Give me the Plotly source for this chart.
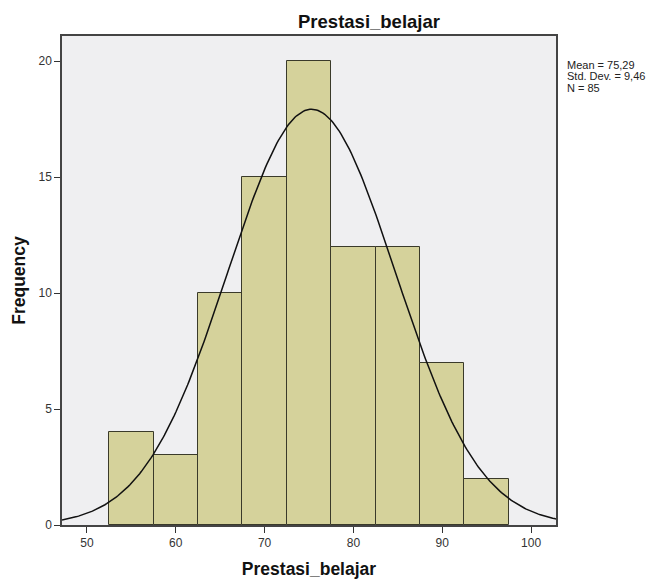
import numpy as np
import plotly.graph_objects as go

# histogram bins (centres, width 5) and frequencies
bin_centers = [55, 60, 65, 70, 75, 80, 85, 90, 95]
frequencies = [4, 3, 10, 15, 20, 12, 12, 7, 2]
bin_width = 5

mean_val = 75.29
std_val = 9.46
n_val = 85

x_ticks = [50, 60, 70, 80, 90, 100]
y_ticks = [0, 5, 10, 15, 20]
stat_lines = ["Mean = 75,29", "Std. Dev. = 9,46", "N = 85"]

# fitted normal curve from the reported statistics
xc = np.linspace(47.2, 102.8, 300)
yc = n_val * bin_width / (std_val * np.sqrt(2 * np.pi)) * np.exp(-0.5 * ((xc - mean_val) / std_val) ** 2)

W, H = 655, 575  # page body adds an 8px offset
L, R, T, B = 54, 107, 28, 58
ph = H - T - B

fig = go.Figure()
fig.add_trace(go.Bar(x=bin_centers, y=frequencies, width=bin_width,
                     marker=dict(color="#D5D29B", line=dict(color="#3a3a2a", width=1))))
fig.add_trace(go.Scatter(x=xc, y=yc, mode="lines", line=dict(color="#111111", width=1.5)))

# stats box, one line per annotation for tight spacing
for i, txt in enumerate(stat_lines):
    fig.add_annotation(text=txt, x=1.018, y=1 - (57 + 11.5 * i - T) / ph, xref="paper", yref="paper",
                       xanchor="left", yanchor="middle", align="left", showarrow=False,
                       font=dict(size=11, color="#222222"))

fig.update_layout(
    width=W, height=H,
    margin=dict(l=L, r=R, t=T, b=B, autoexpand=False),
    paper_bgcolor="white", plot_bgcolor="#EFEFF1",
    showlegend=False, bargap=0,
    font=dict(family="Liberation Sans, Arial", size=12, color="#333333"),
    title=dict(text="<b>Prestasi_belajar</b>", xref="container", yref="container",
               x=361 / W, y=1 - 14 / H, xanchor="center", yanchor="middle",
               font=dict(size=18.5, color="#111111")),
)

fig.update_xaxes(range=[47.2, 102.8], tickvals=x_ticks, ticks="outside", ticklen=6, tickcolor="#333333",
                 showgrid=False, zeroline=False, showline=True, linecolor="#444444", linewidth=1.5, mirror=True,
                 automargin=False,
                 title=dict(text="<b>Prestasi_belajar</b>", font=dict(size=17.5, color="#111111"), standoff=14))
fig.update_yaxes(range=[0, 21.08], tickvals=y_ticks, ticks="outside", ticklen=6, tickcolor="#333333",
                 showgrid=False, zeroline=False, showline=True, linecolor="#444444", linewidth=1.5, mirror=True,
                 automargin=False,
                 title=dict(text="<b>Frequency</b>", font=dict(size=17.5, color="#111111"), standoff=8))

fig.write_html("out.html")
